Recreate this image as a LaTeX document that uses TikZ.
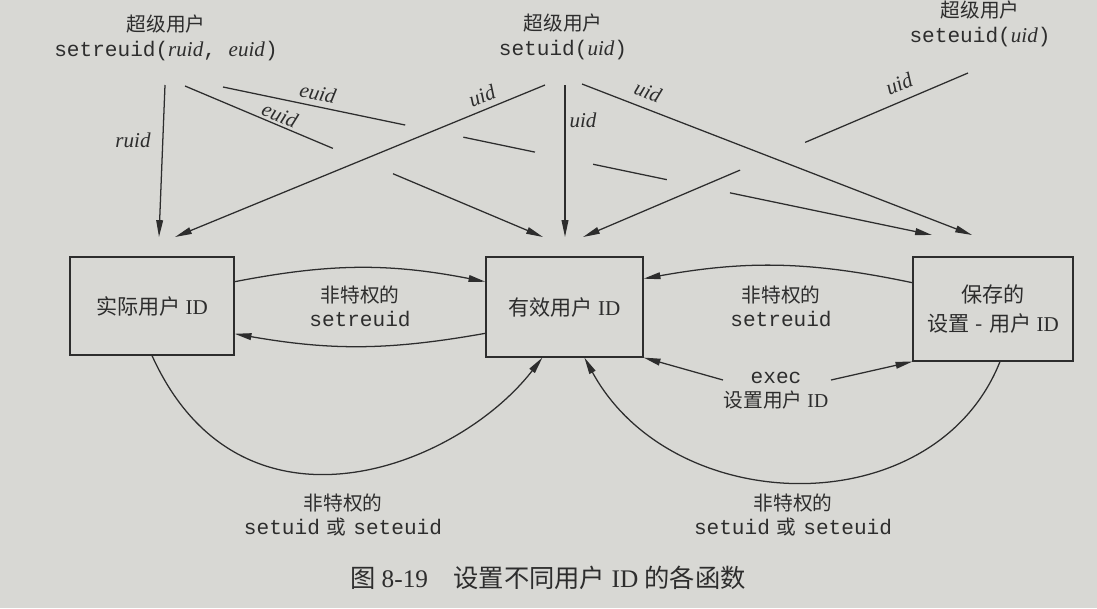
\documentclass[tikz,border=0pt]{standalone}
\usepackage{fontspec}
\setmainfont{Liberation Serif}
\setmonofont{Liberation Mono}
\newfontfamily\cjk{Noto Sans CJK SC}
\usetikzlibrary{arrows.meta,calc}
\definecolor{paper}{RGB}{216,216,212}
\definecolor{ink}{RGB}{45,45,45}
\newcommand\zh[1]{{\cjk #1}}
\newcommand\code[1]{{\ttfamily\fontsize{15}{15}\selectfont #1}}
\newcommand\vn[1]{{\fontsize{15}{15}\selectfont\itshape #1}}
\tikzset{
  idbox/.style={draw=ink, line width=0.8pt, align=center, inner sep=0pt, text=ink, font=\fontsize{15}{20}\selectfont},
  conn/.style={draw=ink, line width=0.9pt},
  arr/.style={conn, -{Triangle[length=12pt,width=4.8pt]}},
  lbl/.style={align=center, text=ink, inner sep=1pt, font=\fontsize{14}{17}\selectfont},
  varlbl/.style={text=ink, inner sep=0.5pt, font=\fontsize{15}{15}\selectfont\itshape},
  title/.style={align=center, text=ink, inner sep=1pt, font=\fontsize{14}{18}\selectfont},
}
\begin{document}
\begin{tikzpicture}[x=0.025cm,y=-0.025cm]
\path[use as bounding box, fill=paper] (0,0) rectangle (1097,608);

% boxes
\node[idbox, minimum width=4.1cm, minimum height=2.45cm] (real) at (152,306) {\zh{实际用户} ID};
\node[idbox, minimum width=3.925cm, minimum height=2.5cm] (eff) at (564.5,307) {\zh{有效用户} ID};
\node[idbox, minimum width=4.0cm, minimum height=2.6cm] (saved) at (993,309) {\zh{保存的}\\\zh{设置\hspace{0.3em}-\hspace{0.3em}用户} ID};

% titles
\node[title] (t1) at (166,38) {\zh{超级用户}\\\code{setreuid(}\vn{ruid}\code{, }\vn{euid}\code{)}};
\node[title] (t2) at (563,37) {\zh{超级用户}\\\code{setuid(}\vn{uid}\code{)}};
\node[title] (t3) at (980,24) {\zh{超级用户}\\\code{seteuid(}\vn{uid}\code{)}};

% line ends
\coordinate (sR) at (165,85);  \coordinate (eR) at (159,237);
\coordinate (sA) at (185,86);  \coordinate (eA) at (543,237);
\coordinate (sB) at (223,87);  \coordinate (eB) at (932,235);
\coordinate (sU1) at (545,85); \coordinate (eU1) at (175,237);
\coordinate (sU2) at (565,85); \coordinate (eU2) at (565,237);
\coordinate (sU3) at (582,84); \coordinate (eU3) at (972,235);
\coordinate (sE) at (968,73);  \coordinate (eE) at (583,237);

\draw[arr] (sR) -- (eR);
\draw[conn] (sA) -- ($(sA)!0.413!(eA)$);
\draw[arr] ($(sA)!0.581!(eA)$) -- (eA);
\draw[conn] (sB) -- ($(sB)!0.257!(eB)$);
\draw[conn] ($(sB)!0.339!(eB)$) -- ($(sB)!0.44!(eB)$);
\draw[conn] ($(sB)!0.522!(eB)$) -- ($(sB)!0.626!(eB)$);
\draw[arr] ($(sB)!0.715!(eB)$) -- (eB);
\draw[arr] (sU1) -- (eU1);
\draw[arr] (sU2) -- (eU2);
\draw[arr] (sU3) -- (eU3);
\draw[conn] (sE) -- ($(sE)!0.423!(eE)$);
\draw[arr] ($(sE)!0.592!(eE)$) -- (eE);

% line labels
\node[varlbl] (lr) at (133,140) {ruid};
\node[varlbl, rotate=-12] (le1) at (318,93) {euid};
\node[varlbl, rotate=-22] (le2) at (280,115) {euid};
\node[varlbl, rotate=22] (lu1) at (482,96) {uid};
\node[varlbl] (lu2) at (583,120) {uid};
\node[varlbl, rotate=-21] (lu3) at (648,92) {uid};
\node[varlbl, rotate=23] (lu4) at (899,84) {uid};

% setreuid arcs
\draw[arr] ($(real.north east)!0.255!(real.south east)$) to[bend left=11] ($(eff.north west)!0.25!(eff.south west)$);
\draw[arr] ($(eff.north west)!0.76!(eff.south west)$) to[bend left=10] ($(real.north east)!0.78!(real.south east)$);
\draw[arr] ($(saved.north west)!0.25!(saved.south west)$) to[bend right=11] ($(eff.north east)!0.22!(eff.south east)$);

\node[lbl] (m1) at (360,306) {\zh{非特权的}\\\code{setreuid}};
\node[lbl] (m2) at (781,306) {\zh{非特权的}\\\code{setreuid}};

% exec
\node[lbl] (exl) at (776,391) {\code{exec}\\\zh{设置用户} ID};
\coordinate (x1) at (723,380);
\coordinate (x2) at (831,380);
\draw[arr] (x1) -- (eff.south east);
\draw[arr] (x2) -- (saved.south west);

% big arcs
\draw[arr] (real.south) .. controls (240,550) and (455,470) .. ($(eff.south west)+(57,0)$);
\draw[arr] ($(saved.south)+(7,0)$) .. controls (935,525) and (673,520) .. ($(eff.south west)+(99,0)$);

\node[lbl] (b1) at (343,515) {\zh{非特权的}\\\code{setuid}\hspace{0.35em}\zh{或}\hspace{0.35em}\code{seteuid}};
\node[lbl] (b2) at (793,515) {\zh{非特权的}\\\code{setuid}\hspace{0.35em}\zh{或}\hspace{0.35em}\code{seteuid}};

% caption
\node[text=ink, inner sep=1pt, font=\fontsize{18}{18}\selectfont] (cap) at (548,578) {\zh{图} 8-19\quad\zh{设置不同用户} ID \zh{的各函数}};
\end{tikzpicture}
\end{document}
